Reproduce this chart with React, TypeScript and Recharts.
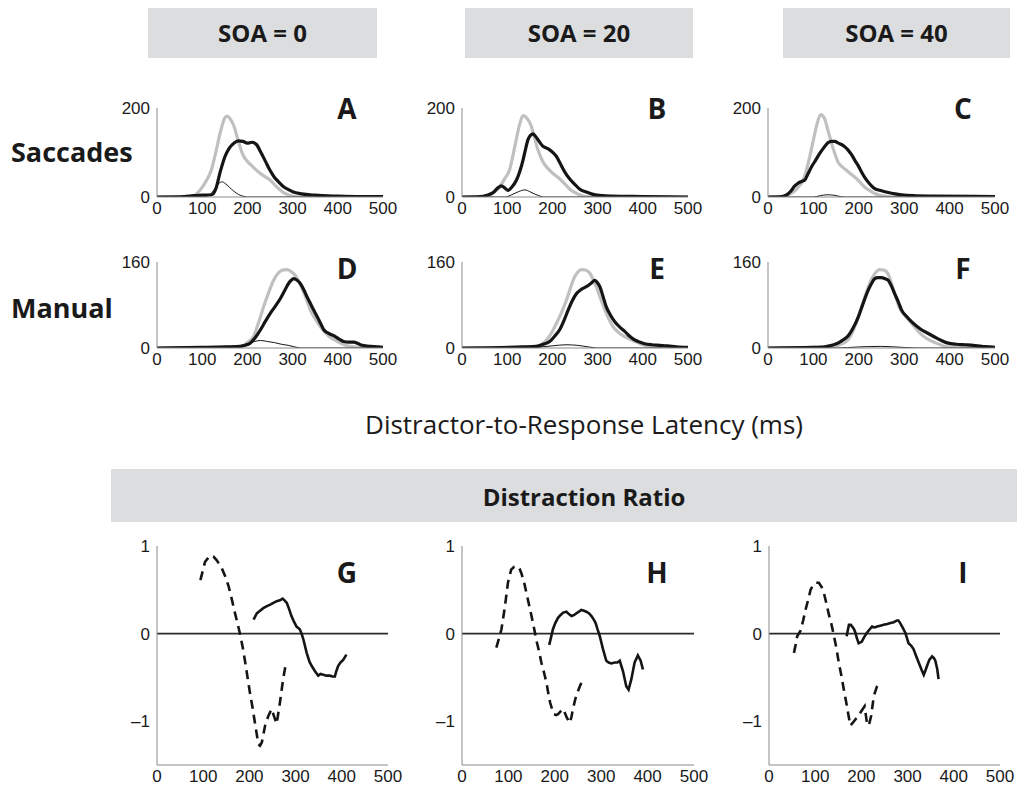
import React from 'react';
import { LineChart, Line, XAxis, YAxis, ReferenceLine } from 'recharts';

type P = [number, number][];

const xTicks = [0, 100, 200, 300, 400, 500];
const saccTicks = [0, 200];
const manTicks = [0, 160];
const ratioTicks = [-1, 0, 1];
const headers = ['SOA = 0', 'SOA = 20', 'SOA = 40'];
const letters = ['A', 'B', 'C', 'D', 'E', 'F', 'G', 'H', 'I'];

const A_gray: P = [[0,0],[60,0],[80,2],[95,15],[110,38],[120,60],[130,100],[140,145],[150,178],[155,182],[160,178],[170,160],[180,125],[190,95],[200,80],[210,70],[220,60],[230,52],[240,45],[250,38],[260,28],[270,18],[280,10],[290,5],[300,2],[320,0],[500,0]];
const A_black: P = [[0,0],[60,1],[80,3],[100,4],[120,5],[125,8],[130,18],[140,57],[150,90],[160,110],[170,121],[180,126],[190,125],[200,121],[210,123],[220,118],[230,100],[240,80],[250,60],[260,44],[270,33],[280,23],[290,17],[300,12],[320,7],[350,4],[400,2],[450,1],[500,1]];
const A_thin: P = [[0,0],[100,0],[110,2],[120,8],[130,22],[140,33],[145,34],[150,31],[160,22],[170,13],[180,6],[190,2],[200,0],[500,0]];

const B_gray: P = [[0,0],[50,0],[61,3],[70,10],[83,22],[95,42],[105,60],[112,90],[120,129],[128,165],[135,183],[142,179],[153,160],[160,135],[168,106],[179,79],[194,60],[205,50],[216,41],[227,30],[238,18],[250,10],[260,5],[275,1],[300,0],[500,0]];
const B_black: P = [[0,0],[40,1],[55,4],[69,10],[80,21],[87,25],[95,20],[102,15],[110,22],[120,37],[128,58],[135,83],[140,105],[146,129],[152,139],[157,142],[162,137],[168,129],[174,120],[179,114],[187,110],[194,106],[202,99],[209,91],[216,78],[223,64],[230,52],[238,41],[250,28],[260,18],[275,11],[290,6],[310,3],[330,2],[400,1],[500,0]];
const B_thin: P = [[0,0],[95,0],[110,5],[125,12],[139,16],[150,12],[160,7],[170,3],[180,0],[500,0]];

const C_gray: P = [[0,0],[29,0],[45,5],[59,14],[68,24],[77,37],[85,62],[92,91],[100,128],[107,160],[116,185],[125,175],[132,150],[140,121],[147,98],[154,79],[163,68],[173,60],[182,52],[191,45],[202,34],[213,22],[225,14],[235,8],[257,2],[280,0],[500,0]];
const C_black: P = [[0,0],[30,1],[40,4],[51,14],[58,24],[66,31],[74,35],[81,38],[88,52],[96,68],[105,83],[114,98],[123,111],[132,122],[140,125],[147,125],[155,121],[162,118],[170,112],[176,106],[184,95],[191,83],[199,70],[206,56],[213,44],[221,33],[228,25],[235,19],[250,14],[265,10],[280,7],[294,5],[320,3],[360,2],[500,1]];
const C_thin: P = [[0,0],[100,0],[115,3],[130,5],[145,4],[160,1],[170,0],[500,0]];

const D_gray: P = [[0,0],[180,2],[192,5],[203,12],[214,22],[225,48],[236,77],[247,103],[258,126],[268,139],[277,145],[288,146],[297,142],[306,135],[313,125],[321,111],[330,92],[339,71],[350,54],[361,40],[372,29],[383,20],[395,14],[406,9],[417,5],[428,3],[450,1],[500,0]];
const D_black: P = [[0,0],[100,1],[155,2],[184,3],[195,5],[206,9],[218,20],[229,34],[240,50],[251,65],[262,78],[273,92],[282,106],[291,120],[297,126],[302,129],[310,126],[317,120],[325,108],[332,95],[341,80],[350,65],[360,49],[369,34],[380,27],[391,23],[402,17],[413,12],[424,11],[435,11],[443,9],[450,6],[461,4],[472,3],[490,2],[500,1]];
const D_thin: P = [[0,0],[70,0],[90,2],[130,2],[170,3],[200,8],[215,12],[229,14],[245,12],[260,10],[275,7],[290,5],[305,2],[320,0],[500,0]];

const E_gray: P = [[0,0],[150,1],[164,2],[176,7],[187,15],[198,28],[209,46],[220,66],[231,89],[240,112],[249,132],[256,141],[264,146],[273,145],[282,140],[290,128],[297,114],[306,93],[316,71],[325,54],[334,40],[345,30],[356,23],[367,18],[378,14],[389,10],[400,6],[420,2],[440,0],[500,0]];
const E_black: P = [[0,0],[135,2],[164,3],[180,7],[194,12],[205,22],[216,34],[226,52],[235,71],[244,88],[253,101],[264,109],[275,114],[285,120],[294,126],[300,121],[305,114],[312,96],[319,77],[328,62],[338,49],[349,39],[360,31],[371,22],[382,15],[393,11],[404,8],[420,6],[437,5],[455,4],[474,2],[500,1]];
const E_thin: P = [[0,0],[150,0],[175,2],[200,4],[230,6],[255,5],[280,2],[300,0],[500,0]];

const F_gray: P = [[0,0],[140,2],[158,6],[176,15],[188,33],[199,58],[210,86],[221,114],[228,128],[235,138],[246,146],[254,145],[261,142],[267,133],[272,120],[281,96],[290,74],[303,59],[316,46],[327,35],[338,25],[353,16],[368,10],[380,6],[390,3],[410,1],[500,0]];
const F_black: P = [[0,0],[100,1],[125,2],[140,5],[154,9],[165,15],[176,22],[188,38],[199,58],[210,84],[221,108],[228,120],[235,129],[242,131],[250,131],[258,129],[265,126],[272,115],[279,101],[287,86],[294,71],[305,59],[316,49],[327,41],[338,34],[353,27],[368,20],[382,14],[397,9],[415,7],[434,6],[452,5],[471,3],[490,2],[500,1]];
const F_thin: P = [[0,0],[150,0],[200,2],[250,3],[300,1],[330,0],[500,0]];

const G_dashed: P = [[94,0.61],[104,0.82],[115,0.89],[122,0.88],[129,0.84],[140,0.75],[148,0.65],[155,0.54],[162,0.39],[169,0.23],[175,0.1],[180,-0.01],[186,-0.17],[191,-0.33],[196,-0.5],[201,-0.67],[207,-0.85],[212,-1.02],[216,-1.15],[219,-1.26],[223,-1.28],[227,-1.24],[234,-1.05],[241,-0.94],[248,-0.86],[253,-0.94],[259,-1.03],[266,-0.79],[273,-0.52],[278,-0.37]];
const G_solid: P = [[209,0.16],[216,0.23],[223,0.26],[230,0.29],[237,0.31],[245,0.33],[252,0.35],[259,0.37],[266,0.38],[272,0.40],[276,0.38],[281,0.35],[286,0.28],[291,0.20],[297,0.13],[302,0.08],[309,0.05],[313,0.0],[317,-0.07],[324,-0.22],[330,-0.32],[335,-0.37],[342,-0.43],[349,-0.48],[354,-0.46],[360,-0.47],[367,-0.48],[374,-0.48],[380,-0.49],[385,-0.49],[388,-0.43],[392,-0.37],[397,-0.33],[403,-0.30],[410,-0.24]];

const H_dashed: P = [[74,-0.16],[80,-0.05],[85,0.05],[92,0.29],[99,0.58],[106,0.73],[112,0.76],[119,0.77],[124,0.74],[128,0.69],[134,0.58],[139,0.46],[144,0.34],[149,0.22],[155,0.07],[160,-0.07],[166,-0.2],[171,-0.33],[177,-0.45],[182,-0.56],[186,-0.68],[190,-0.79],[194,-0.86],[198,-0.92],[203,-0.93],[207,-0.92],[212,-0.89],[218,-0.86],[222,-0.91],[226,-0.96],[232,-1.02],[236,-0.95],[239,-0.86],[246,-0.71],[254,-0.6],[261,-0.52]];
const H_solid: P = [[188,-0.13],[192,-0.04],[196,0.05],[201,0.12],[207,0.18],[212,0.21],[218,0.24],[225,0.25],[231,0.22],[236,0.20],[241,0.21],[246,0.23],[252,0.25],[257,0.27],[263,0.26],[268,0.25],[274,0.23],[279,0.20],[284,0.16],[288,0.12],[292,0.05],[297,-0.03],[304,-0.18],[311,-0.31],[316,-0.33],[322,-0.34],[329,-0.33],[335,-0.33],[340,-0.31],[347,-0.43],[354,-0.60],[359,-0.64],[365,-0.52],[372,-0.33],[379,-0.25],[385,-0.31],[390,-0.41]];

const I_dashed: P = [[54,-0.22],[58,-0.12],[61,-0.03],[68,0.03],[74,0.15],[79,0.27],[85,0.39],[90,0.5],[96,0.56],[101,0.58],[108,0.58],[114,0.53],[119,0.46],[124,0.35],[129,0.23],[135,0.11],[140,-0.01],[146,-0.17],[151,-0.33],[157,-0.49],[162,-0.64],[167,-0.78],[171,-0.90],[176,-1.05],[181,-1.02],[187,-0.98],[193,-0.94],[198,-0.90],[203,-0.86],[207,-0.83],[212,-1.02],[216,-1.05],[221,-0.94],[227,-0.71],[234,-0.60],[239,-0.56]];
const I_solid: P = [[168,-0.03],[173,0.10],[177,0.10],[180,0.08],[184,0.05],[187,0.01],[190,-0.05],[194,-0.11],[198,-0.10],[201,-0.09],[206,-0.04],[212,0.01],[218,0.05],[223,0.08],[229,0.07],[234,0.08],[241,0.09],[248,0.10],[256,0.11],[263,0.12],[270,0.13],[277,0.15],[280,0.15],[284,0.12],[289,0.07],[295,0.01],[302,-0.11],[308,-0.14],[313,-0.18],[318,-0.25],[324,-0.33],[330,-0.41],[335,-0.47],[338,-0.43],[342,-0.37],[347,-0.30],[353,-0.26],[357,-0.28],[360,-0.31],[364,-0.40],[367,-0.52]];

const toObj = (p: P) => p.map(([t, v]) => ({ t, v }));

type S = { data: P; color: string; width: number; dash?: string; curve: 'monotone' | 'linear' };

const YW = 44;
const XH = 26;
const MT = 12;
const MR = 22;
const AXIS = '#8a8a8a';
const TXT = '#1a1a1a';
const tickFont = { fill: TXT, fontSize: 17, fontFamily: "'Liberation Sans', Arial, sans-serif" };
const LABEL_FONT = "'Open Sans', sans-serif";

const fmt = (v: number) => (v < 0 ? '\u2013' + Math.abs(v) : String(v));

function Panel(props: {
  left: number; top: number; w: number; h: number;
  domain: [number, number]; yTicks: number[]; series: S[]; zero?: boolean;
}) {
  const { left, top, w, h, domain, yTicks, series, zero } = props;
  return (
    <div style={{ position: 'absolute', left: left - YW, top: top - MT }}>
      <LineChart width={YW + w + MR} height={MT + h + XH} margin={{ top: MT, right: MR, bottom: 0, left: 0 }}>
        <XAxis dataKey="t" type="number" domain={[0, 500]} ticks={xTicks} interval={0} height={XH}
          axisLine={{ stroke: AXIS, strokeWidth: 1 }} tickLine={false} tickSize={3} tickMargin={2}
          tick={tickFont} allowDataOverflow />
        <YAxis type="number" domain={domain} ticks={yTicks} interval={0} width={YW}
          axisLine={{ stroke: AXIS, strokeWidth: 1 }} tickLine={false} tickSize={3} tickMargin={4}
          tick={tickFont} tickFormatter={fmt} allowDataOverflow />
        {zero && <ReferenceLine y={0} stroke="#2a2a2a" strokeWidth={1.6} />}
        {series.map((s, i) => (
          <Line key={i} data={toObj(s.data)} dataKey="v" type={s.curve} stroke={s.color}
            strokeWidth={s.width} strokeDasharray={s.dash} dot={false} activeDot={false}
            isAnimationActive={false} />
        ))}
      </LineChart>
    </div>
  );
}

const GRAY = '#c0c0c0';
const BLACK = '#151515';

const topSeries = (g: P, b: P, t: P): S[] => [
  { data: g, color: GRAY, width: 3.2, curve: 'monotone' },
  { data: b, color: BLACK, width: 3.2, curve: 'monotone' },
  { data: t, color: BLACK, width: 1, curve: 'monotone' },
];
const botSeries = (d: P, s: P): S[] => [
  { data: d, color: BLACK, width: 2.6, dash: '9 6', curve: 'linear' },
  { data: s, color: BLACK, width: 2.6, curve: 'linear' },
];

const colLeftTop = [157, 462, 768];
const colWTop = [226, 226, 227];
const colLeftBot = [157, 462, 769];
const colWBot = [231, 232, 231];
const headerBoxes = [[148, 377], [465, 693], [783, 1010]];
const letterX = [347, 657, 963];

export default function App() {
  const sacc = [topSeries(A_gray, A_black, A_thin), topSeries(B_gray, B_black, B_thin), topSeries(C_gray, C_black, C_thin)];
  const man = [topSeries(D_gray, D_black, D_thin), topSeries(E_gray, E_black, E_thin), topSeries(F_gray, F_black, F_thin)];
  const rat = [botSeries(G_dashed, G_solid), botSeries(H_dashed, H_solid), botSeries(I_dashed, I_solid)];

  const txt = (s: string, x: number, y: number, size: number, weight: number, key: string, anchor = 'center') => (
    <div key={key} style={{
      position: 'absolute', left: x, top: y, transform: anchor === 'center' ? 'translate(-50%, -50%)' : 'translate(0, -50%)',
      fontFamily: LABEL_FONT, fontSize: size, fontWeight: weight, color: TXT, lineHeight: 1, whiteSpace: 'nowrap',
    }}>{s}</div>
  );

  return (
    <div style={{ position: 'fixed', left: 0, top: 0, width: 1017, height: 789, background: '#fff', overflow: 'hidden' }}>
      {headerBoxes.map(([a, b], i) => (
        <div key={'hb' + i} style={{ position: 'absolute', left: a, top: 8, width: b - a, height: 50, background: '#dcdddf' }} />
      ))}
      {headers.map((h, i) => txt(h, (headerBoxes[i][0] + headerBoxes[i][1]) / 2, 33, 24, 700, 'h' + i))}

      {txt('Saccades', 11, 151, 27, 700, 'rs', 'left')}
      {txt('Manual', 11, 307, 27, 700, 'rm', 'left')}

      {sacc.map((s, i) => (
        <Panel key={'s' + i} left={colLeftTop[i]} top={108} w={colWTop[i]} h={89} domain={[0, 200]} yTicks={saccTicks} series={s} />
      ))}
      {man.map((s, i) => (
        <Panel key={'m' + i} left={colLeftTop[i]} top={262} w={colWTop[i]} h={86} domain={[0, 160]} yTicks={manTicks} series={s} />
      ))}

      {txt('Distractor-to-Response Latency (ms)', 584, 424, 26, 400, 'xl')}

      <div style={{ position: 'absolute', left: 111, top: 469, width: 906, height: 53, background: '#dcdddf' }} />
      {txt('Distraction Ratio', 584, 497, 24, 700, 'dr')}

      {rat.map((s, i) => (
        <Panel key={'r' + i} left={colLeftBot[i]} top={546} w={colWBot[i]} h={219} domain={[-1.5, 1]} yTicks={ratioTicks} series={s} zero />
      ))}

      {letterX.map((x, i) => txt(letters[i], x, 108, 28, 700, 'la' + i))}
      {letterX.map((x, i) => txt(letters[i + 3], x, 268, 28, 700, 'lb' + i))}
      {letterX.map((x, i) => txt(letters[i + 6], x, 572, 28, 700, 'lc' + i))}
    </div>
  );
}
